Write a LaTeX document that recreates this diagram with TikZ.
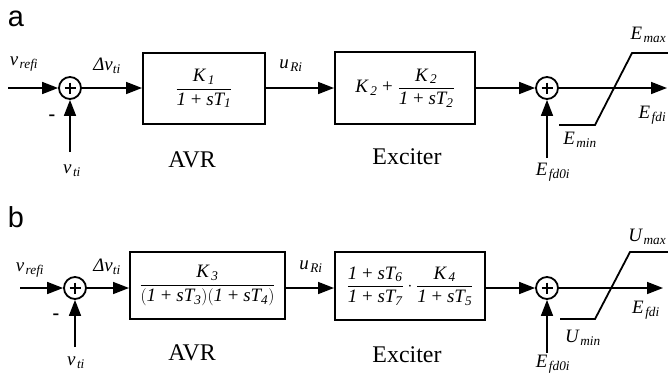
\documentclass[tikz,border=0pt]{standalone}
\usepackage{amsmath}
\usepackage{fontspec}
\setmainfont{Liberation Serif}
\newfontfamily\arialfont{Liberation Sans}
\usetikzlibrary{arrows.meta}
\newcommand\ti[1]{\text{\itshape #1}}
\newcommand\subx[1]{\kern1.5bp\textsubscript{#1}}
\newcommand\pl{\mskip5mu\mathord{\text{+}}\mskip5mu}
\begin{document}
\begin{tikzpicture}[x=1bp,y=-1bp,
  line width=1.6bp,
  arr/.style={-{Triangle[length=16bp,width=12bp]}},
  blk/.style={draw,line width=2bp,rectangle,inner sep=0pt},
  sumc/.style={draw,line width=1.8bp,circle,minimum size=22bp,inner sep=0pt},
  lbl/.style={font=\fontsize{19}{21}\selectfont\itshape,inner sep=0pt},
  captxt/.style={font=\fontsize{24}{26}\selectfont,inner sep=0pt},
  fr/.style={font=\fontsize{19}{21}\selectfont},
  panel/.style={font=\arialfont\fontsize{29}{30}\selectfont,inner sep=0pt}
]
\useasboundingbox (0,0) rectangle (668,380);

% ---------------- panel a ----------------
\node[panel] (pa) at (16,19) {a};
\coordinate (ina) at (8,88);
\node[sumc] (s1a) at (70,88) {};
\coordinate (vta) at (70,152);
\node[blk,minimum width=122bp,minimum height=71bp,fr] (avra) at (204,88.5)
  {$\dfrac{\ti{K}_{\,\ti{1}}}{\ti{1}\pl\ti{s}\ti{T}_{\ti{1}}}$};
\node[blk,minimum width=140bp,minimum height=72bp,fr] (exca) at (405,88)
  {$\ti{K}_{\,\ti{2}}\pl\dfrac{\ti{K}_{\,\ti{2}}}{\ti{1}\pl\ti{s}\ti{T}_{\ti{2}}}$};
\node[sumc] (s2a) at (547,88) {};
\coordinate (efa) at (547,158);
\coordinate (outa) at (667,88);

\draw[arr] (ina) -- (s1a);
\draw[arr] (vta) -- (s1a);
\draw[arr] (s1a) -- (avra.west |- s1a);
\draw[arr] (avra.east |- s1a) -- (exca.west |- s1a);
\draw[arr] (exca.east |- s2a) -- (s2a);
\draw[arr] (efa) -- (s2a);
\draw[arr] (s2a) -- (outa);
\draw[line width=1.8bp] (559,125) -- (595,125) -- (632,53) -- (668,53);
\draw[line width=1.8bp] (s1a.center)+(-5.5,0) -- +(5.5,0) +(0,-5.5) -- +(0,5.5);
\draw[line width=1.8bp] (s2a.center)+(-5.5,0) -- +(5.5,0) +(0,-5.5) -- +(0,5.5);

\node[lbl] at (24,64) {v\subx{refi}};
\node[lbl] at (107,66) {$\text{\itshape\char"0394 v}_{\ti{ti}}$};
\node[font=\fontsize{20}{20}\selectfont\bfseries,inner sep=0pt] at (52,118) {-};
\node[lbl] at (72,171) {v\subx{ti}};
\node[captxt] at (192,160) {AVR};
\node[lbl] at (291,66) {u\subx{Ri}};
\node[captxt] at (407,157) {Exciter};
\node[lbl] at (553,172) {E\subx{fd0i}};
\node[lbl,anchor=east] at (667,35) {E\subx{max}};
\node[lbl,anchor=east] at (667,115) {E\subx{fdi}};
\node[lbl] at (580,140) {E\subx{min}};

% ---------------- panel b ----------------
\node[panel] (pb) at (16,217) {b};
\coordinate (inb) at (20,288);
\node[sumc] (s1b) at (75,288) {};
\coordinate (vtb) at (75,347);
\node[blk,minimum width=155bp,minimum height=67bp,fr] (avrb) at (207.5,285.5)
  {$\dfrac{\ti{K}_{\,\ti{3}}}{(\ti{1}\pl\ti{s}\ti{T}_{\ti{3}})(\ti{1}\pl\ti{s}\ti{T}_{\ti{4}})}$};
\node[blk,minimum width=150bp,minimum height=68bp,fr] (excb) at (410,286)
  {$\dfrac{\ti{1}\pl\ti{s}\ti{T}_{\ti{6}}}{\ti{1}\pl\ti{s}\ti{T}_{\ti{7}}}\cdot\dfrac{\ti{K}_{\,\ti{4}}}{\ti{1}\pl\ti{s}\ti{T}_{\ti{5}}}$};
\node[sumc] (s2b) at (547,288) {};
\coordinate (efb) at (547,353);
\coordinate (outb) at (663,288);

\draw[arr] (inb) -- (s1b);
\draw[arr] (vtb) -- (s1b);
\draw[arr] (s1b) -- (avrb.west |- s1b);
\draw[arr] (avrb.east |- s1b) -- (excb.west |- s1b);
\draw[arr] (excb.east |- s2b) -- (s2b);
\draw[arr] (efb) -- (s2b);
\draw[arr] (s2b) -- (outb);
\draw[line width=1.8bp] (560,319) -- (595,319) -- (630,252) -- (668,252);
\draw[line width=1.8bp] (s1b.center)+(-5.5,0) -- +(5.5,0) +(0,-5.5) -- +(0,5.5);
\draw[line width=1.8bp] (s2b.center)+(-5.5,0) -- +(5.5,0) +(0,-5.5) -- +(0,5.5);

\node[lbl] at (30,270) {v\subx{refi}};
\node[lbl] at (107,267) {$\text{\itshape\char"0394 v}_{\ti{ti}}$};
\node[font=\fontsize{20}{20}\selectfont\bfseries,inner sep=0pt] at (56,317) {-};
\node[lbl] at (76,363) {v\subx{ti}};
\node[captxt] at (192,353) {AVR};
\node[lbl] at (311,267) {u\subx{Ri}};
\node[captxt] at (407,355) {Exciter};
\node[lbl] at (553,364) {E\subx{fd0i}};
\node[lbl,anchor=east] at (667,237) {U\subx{max}};
\node[lbl] at (646,310) {E\subx{fdi}};
\node[lbl] at (583,338) {U\subx{min}};
\end{tikzpicture}
\end{document}
